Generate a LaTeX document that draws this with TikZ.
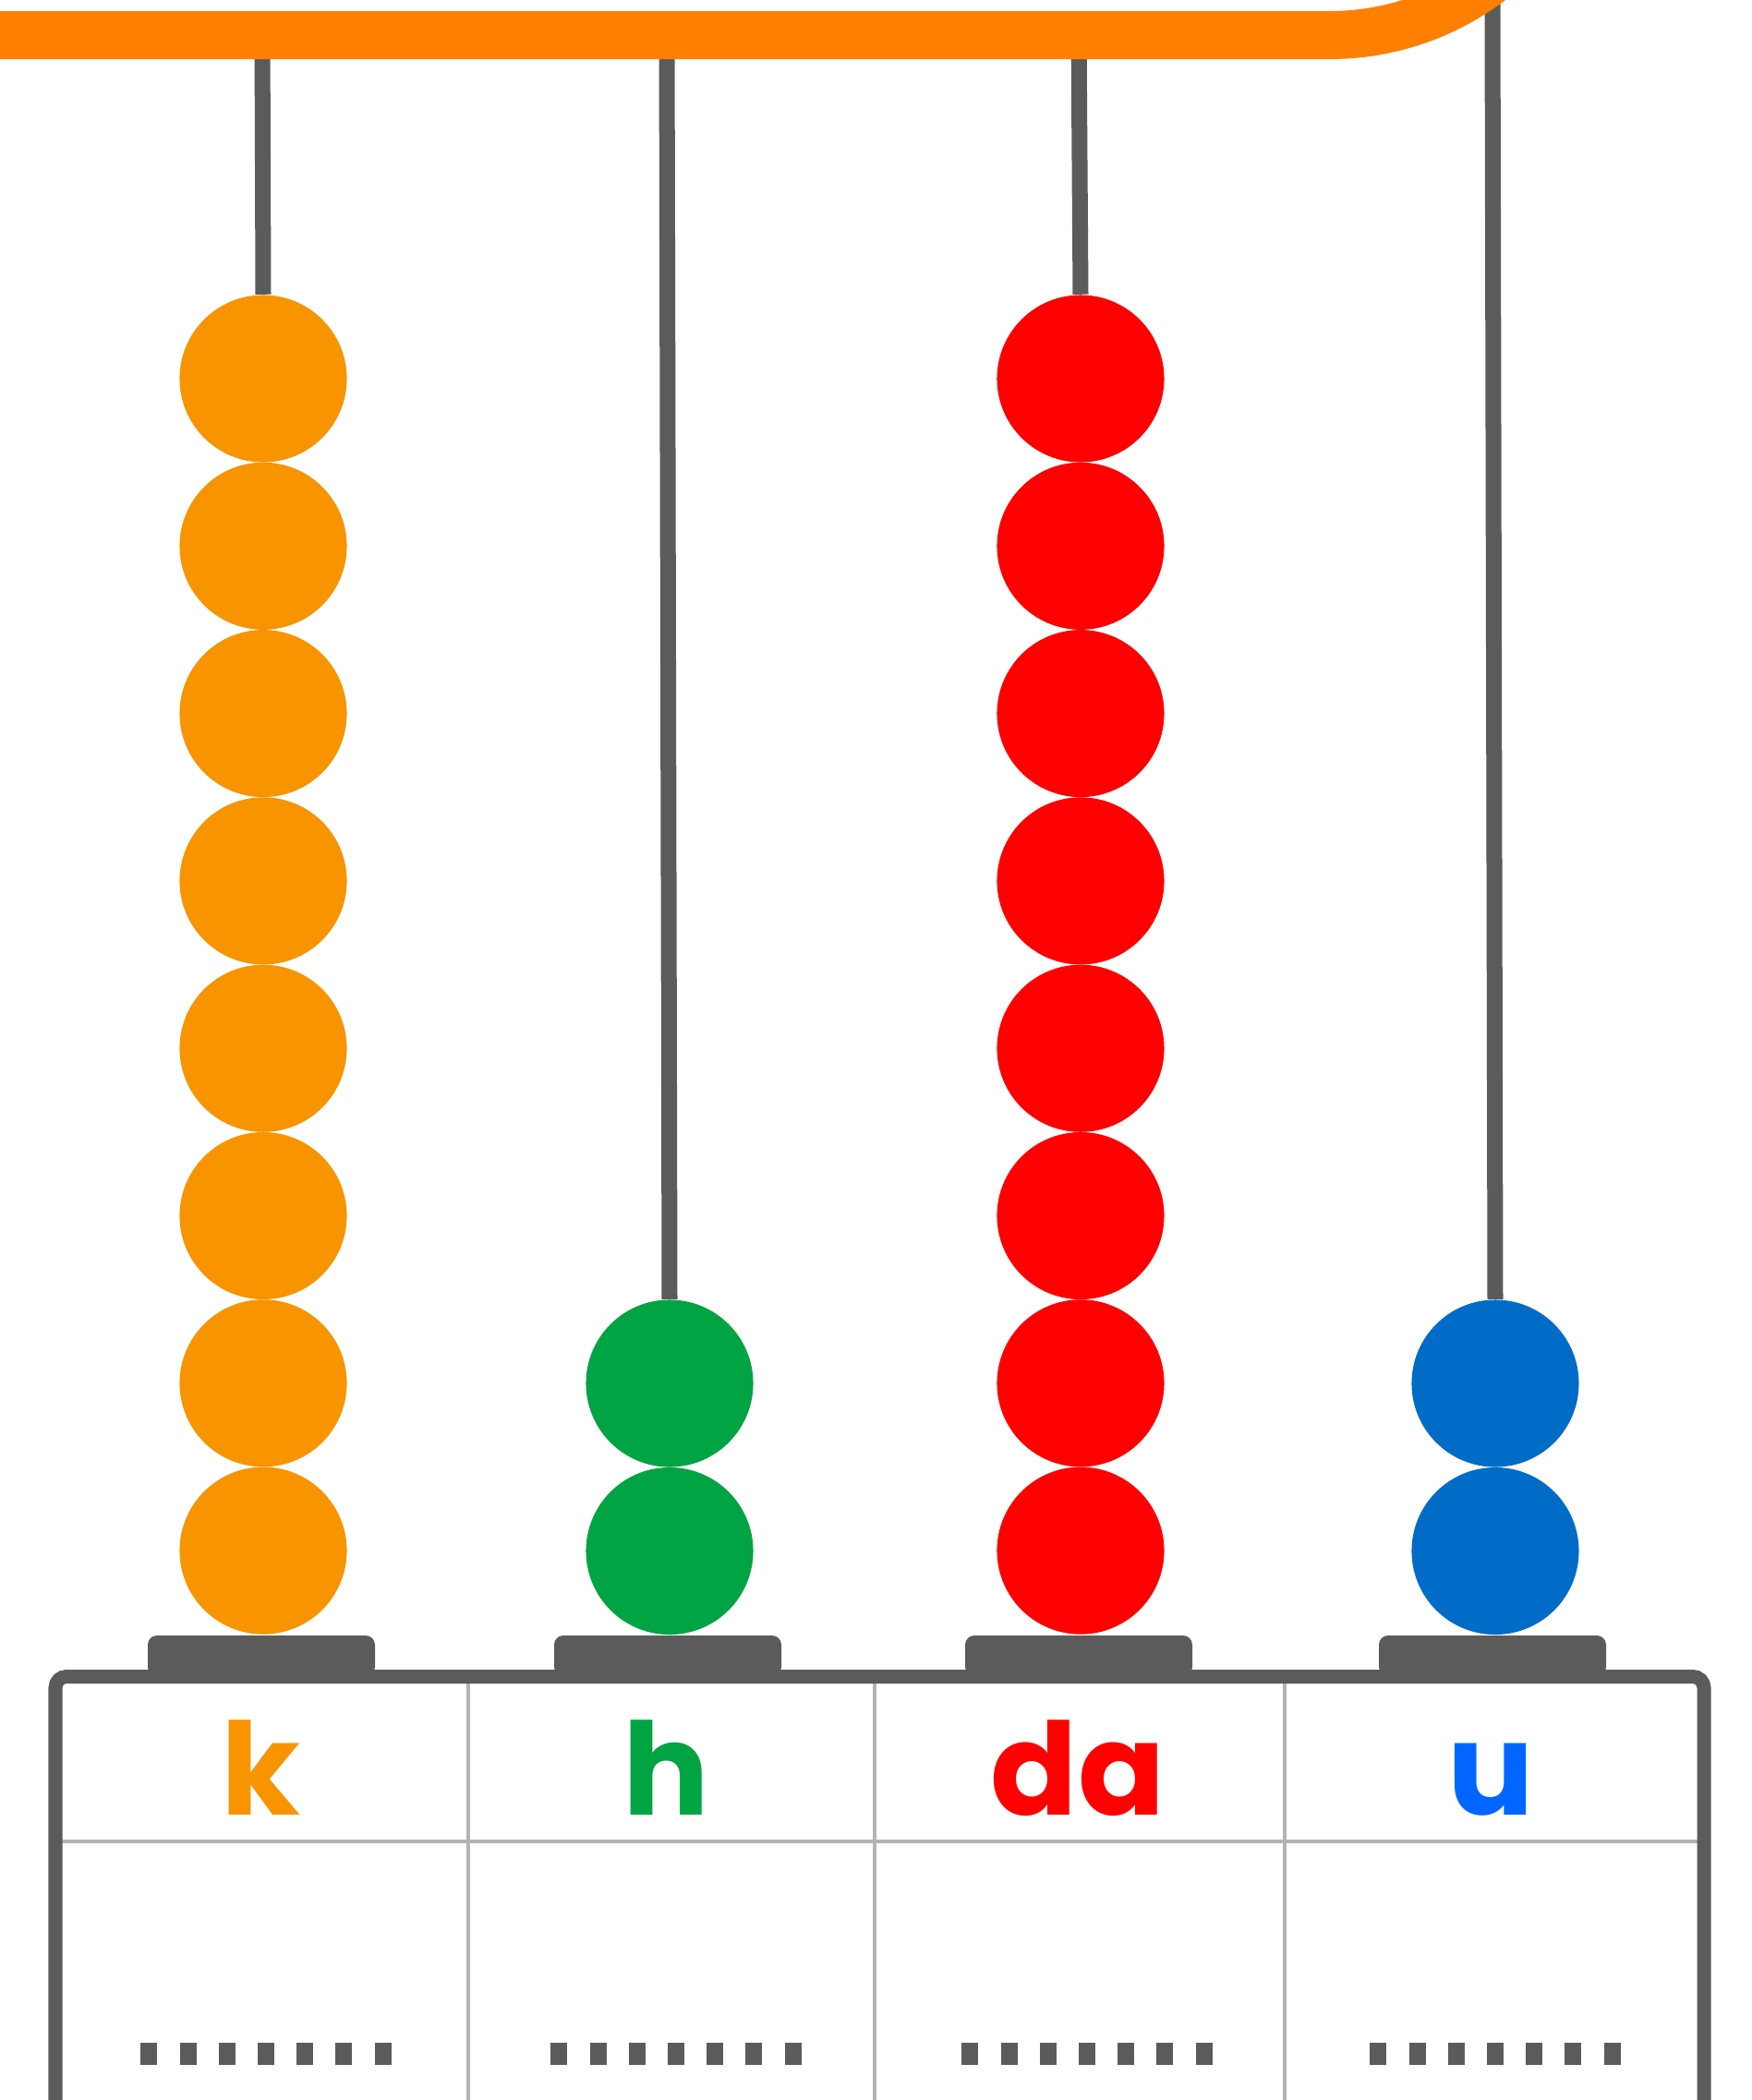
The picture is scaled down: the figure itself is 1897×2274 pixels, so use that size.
\documentclass[tikz,border=0pt]{standalone}
\usepackage{fontspec}
\setmainfont{Poppins}
\definecolor{kor}{HTML}{F79400}
\definecolor{bar}{HTML}{FF8000}
\definecolor{kred}{HTML}{FF0000}
\definecolor{kgreen}{HTML}{00A442}
\definecolor{kblue}{HTML}{006CC8}
\definecolor{ublue}{HTML}{0066FF}
\definecolor{dgrey}{HTML}{5B5B5B}
\definecolor{lgrey}{HTML}{B3B3B3}
\begin{document}
\begin{tikzpicture}[x=0.01cm,y=-0.01cm,
  bead/.style={circle, minimum size=1.81cm, inner sep=0pt, draw=none, fill=#1},
  rod/.style={draw=dgrey, line width=0.17cm},
  pad/.style={fill=dgrey, rounded corners=0.1cm},
  label/.style={font=\fontsize{39.5}{40}\selectfont\bfseries, text=#1, anchor=base, inner sep=0pt},
  dotmark/.style={fill=dgrey},
  divider/.style={draw=lgrey, line width=0.045cm}]
\useasboundingbox (0,0) rectangle (1897,2274);
\clip (0,0) rectangle (1897,2274);
\fill[white] (0,0) rectangle (1897,2274);
% rod tops (hidden under bar)
\coordinate (t1) at (284,30);
\coordinate (t2) at (722,30);
\coordinate (t3) at (1168,30);
\coordinate (t4) at (1616,-5);
% beads
\foreach \i in {0,...,7} {
  \node[bead=kor] (a\i) at (285,410+\i*181.3) {};
  \node[bead=kred] (c\i) at (1170,410+\i*181.3) {};
}
\node[bead=kgreen] (b0) at (725,1498) {};
\node[bead=kgreen] (b1) at (725,1679.5) {};
\node[bead=kblue] (d0) at (1619,1498) {};
\node[bead=kblue] (d1) at (1619,1679.5) {};
% rods
\draw[rod] (t1) -- (a0.north);
\draw[rod] (t2) -- (b0.north);
\draw[rod] (t3) -- (c0.north);
\draw[rod] (t4) -- (d0.north);
% bar
\draw[bar, line width=0.52cm] (-20,38) -- (1440,38) arc[start angle=90, end angle=20, radius=288];
% table
\draw[divider] (507,1815) -- (507,2300);
\draw[divider] (947,1815) -- (947,2300);
\draw[divider] (1391,1815) -- (1391,2300);
\draw[divider] (60,1994) -- (1845,1994);
\fill[pad] (160,1771) rectangle (406,1815);
\fill[pad] (600,1771) rectangle (846,1815);
\fill[pad] (1045,1771) rectangle (1291,1815);
\fill[pad] (1493,1771) rectangle (1739,1815);
\draw[draw=dgrey, line width=0.15cm, rounded corners=0.12cm] (60,2320) -- (60,1815.5) -- (1845,1815.5) -- (1845,2320);
% labels
\node[label=kor] (lk) at (282,1965) {k};
\node[label=kgreen] (lh) at (721,1965) {h};
\node[label=kred] (lda) at (1167,1965) {da};
\node[label=ublue] (lu) at (1614,1965) {u};
% dotted answer lines
\foreach \c in {288,732,1177,1619} {
  \foreach \i in {0,...,6} {
    \fill[dotmark] (\c-135.6+\i*42.2,2212) rectangle ++(18,24);
  }
}
\end{tikzpicture}
\end{document}
